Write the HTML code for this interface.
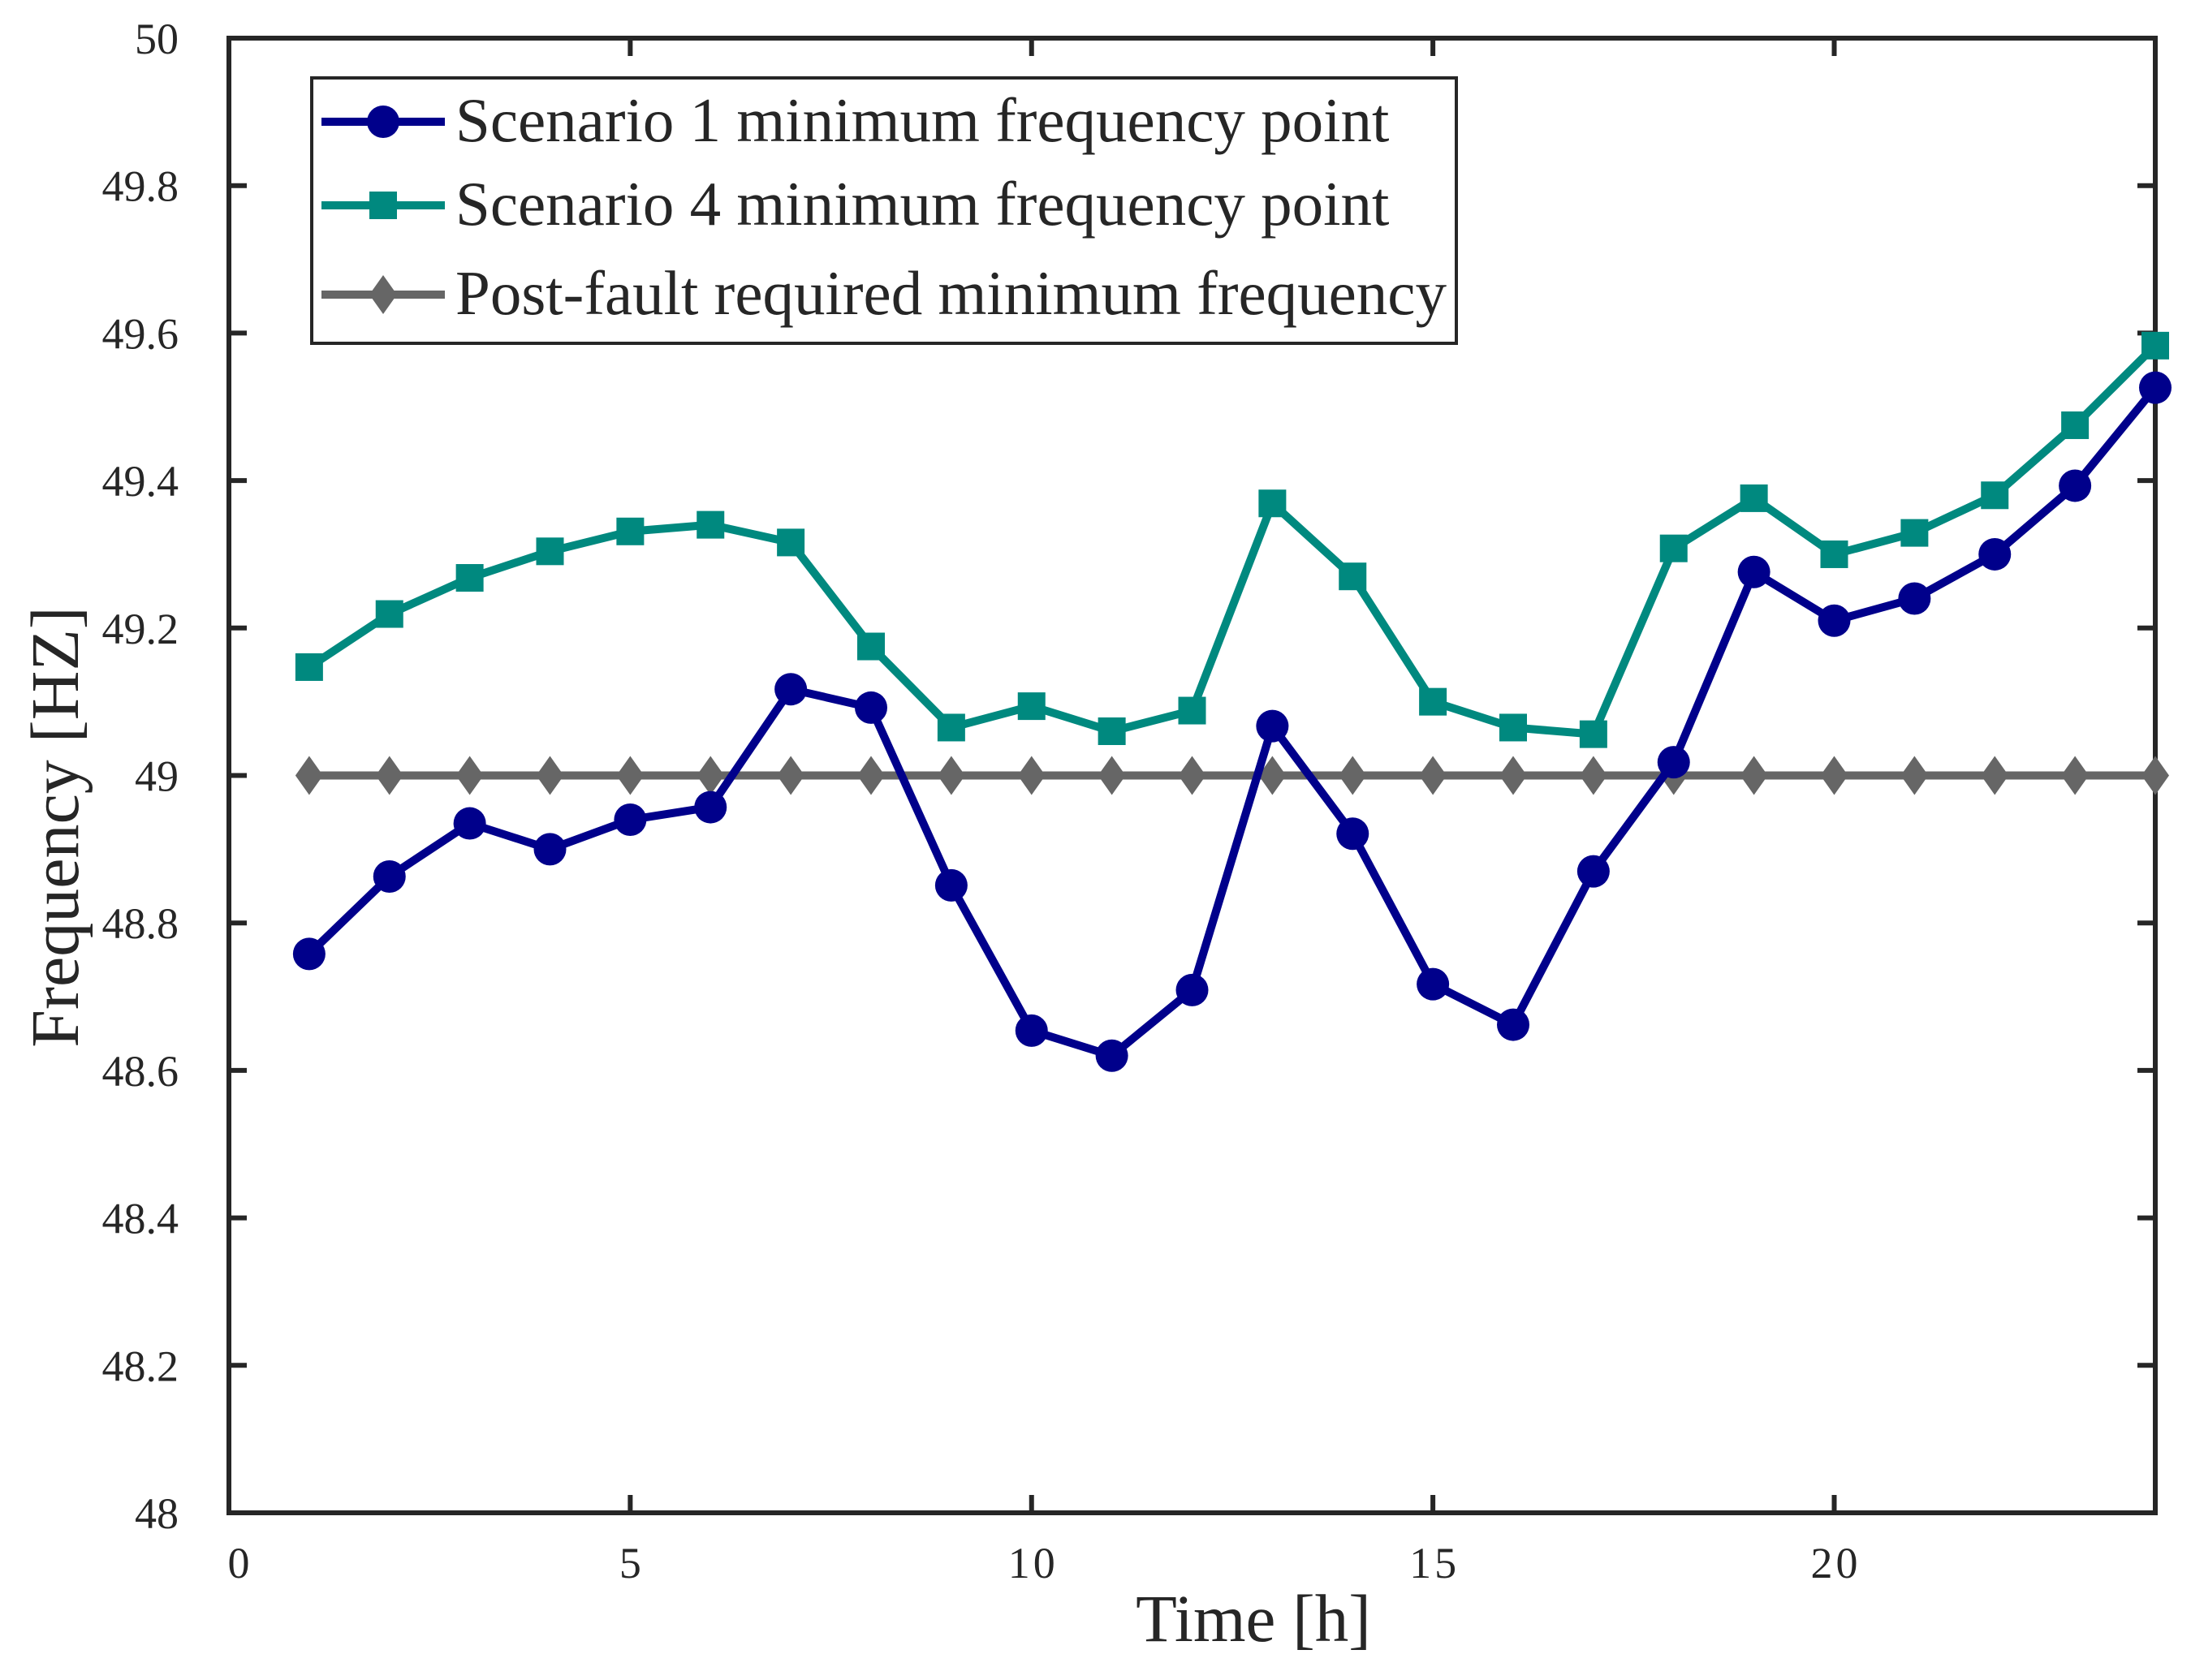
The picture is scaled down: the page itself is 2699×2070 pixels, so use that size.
<!DOCTYPE html>
<html><head><meta charset="utf-8"><style>body{margin:0;background:#fff}svg{display:block}text{font-family:"Liberation Serif",serif;fill:#262626}</style></head>
<body>
<svg id="chart" width="2699" height="2070" viewBox="0 0 2699 2070" xmlns="http://www.w3.org/2000/svg"></svg>
<script>
const hours=[1,2,3,4,5,6,7,8,9,10,11,12,13,14,15,16,17,18,19,20,21,22,23,24];
const scenario1=[48.758,48.863,48.935,48.90,48.94,48.957,49.117,49.092,48.851,48.654,48.62,48.709,49.067,48.921,48.717,48.662,48.87,49.018,49.276,49.21,49.24,49.30,49.393,49.526];
const scenario4=[49.147,49.219,49.268,49.304,49.331,49.34,49.316,49.175,49.065,49.094,49.06,49.088,49.369,49.27,49.10,49.065,49.056,49.308,49.376,49.30,49.329,49.38,49.475,49.583];
const required=[49,49,49,49,49,49,49,49,49,49,49,49,49,49,49,49,49,49,49,49,49,49,49,49];
const xTicks=[0,5,10,15,20];
const yTicks=[48,48.2,48.4,48.6,48.8,49,49.2,49.4,49.6,49.8,50];
const yTickLabels=["48","48.2","48.4","48.6","48.8","49","49.2","49.4","49.6","49.8","50"];
const legendLabels=["Scenario 1 minimum frequency point","Scenario 4 minimum frequency point","Post-fault required minimum frequency"];

const L=282,R=2655,T=47,B=1864;
const sx=v=>L+(v-0)/24*(R-L);
const sy=v=>B-(v-48)/2*(B-T);
const svg=document.getElementById('chart');
const NS='http://www.w3.org/2000/svg';
function mk(tag,attrs,parent){const e=document.createElementNS(NS,tag);for(const k in attrs)e.setAttribute(k,attrs[k]);(parent||svg).appendChild(e);return e;}

xTicks.forEach((t,i)=>{
  const g=mk('g',{});
  
  
  mk('line',{x1:sx(t),x2:sx(t),y1:B,y2:B-22,stroke:'#262626','stroke-width':6},g);
  mk('line',{x1:sx(t),x2:sx(t),y1:T,y2:T+22,stroke:'#262626','stroke-width':6},g);
  const tx=mk('text',{x:sx(t)+(t===0?12:0),y:B+80,'font-size':54,'text-anchor':'middle','textLength':t>=10?58:null},g);tx.textContent=t;
  if(t<10)tx.removeAttribute('textLength');
});
yTicks.forEach((t,i)=>{
  const g=mk('g',{});
  
  
  mk('line',{x1:L,x2:L+22,y1:sy(t),y2:sy(t),stroke:'#262626','stroke-width':6},g);
  mk('line',{x1:R,x2:R-22,y1:sy(t),y2:sy(t),stroke:'#262626','stroke-width':6},g);
  const tx=mk('text',{x:L-62,y:sy(t)+19,'font-size':54,'text-anchor':'end'},g);tx.textContent=yTickLabels[i];
});
const frame=mk('rect',{x:L,y:T,width:R-L,height:B-T,fill:'none',stroke:'#262626','stroke-width':6});



function marker(type,x,y,color,parent){
  if(type==='circle')return mk('circle',{cx:x,cy:y,r:20,fill:color},parent);
  if(type==='square')return mk('rect',{x:x-17,y:y-17,width:34,height:34,fill:color},parent);
  return mk('polygon',{points:`${x},${y-24} ${x+17},${y} ${x},${y+24} ${x-17},${y}`,fill:color},parent);
}
const series=[[scenario1,'#00008b','circle','scenario-1'],[scenario4,'#00897f','square','scenario-4'],[required,'#666666','diamond','required-minimum']];
[series[2],series[0],series[1]].forEach(([vals,color,type,name])=>{
  const g=mk('g',{});
  
  
  mk('polyline',{points:vals.map((v,i)=>sx(hours[i])+','+sy(v)).join(' '),fill:'none',stroke:color,'stroke-width':10,'stroke-linejoin':'round'},g);
  vals.forEach((v,i)=>{const m=marker(type,sx(hours[i]),sy(v),color,g);
    
    });
});

const lg=mk('g',{});


mk('rect',{x:384,y:96,width:1410,height:327,fill:'#fff',stroke:'#262626','stroke-width':4},lg);
const ly=[150,253,363];
series.forEach(([vals,color,type,name],i)=>{
  const e=mk('g',{},lg);
  
  
  mk('line',{x1:396,x2:548,y1:ly[i],y2:ly[i],stroke:color,'stroke-width':10},e);
  marker(type,472,ly[i],color,e);
  const t=mk('text',{x:561,y:ly[i]+24,'font-size':77},e);t.textContent=legendLabels[i];
});

const xt=mk('text',{x:1544,y:2022,'font-size':83,'text-anchor':'middle'});xt.textContent='Time [h]';


const yt=mk('text',{x:0,y:0,'font-size':84,'text-anchor':'middle',transform:`translate(96,1019) rotate(-90)`});yt.textContent='Frequency [HZ]';


</script>
</body></html>
